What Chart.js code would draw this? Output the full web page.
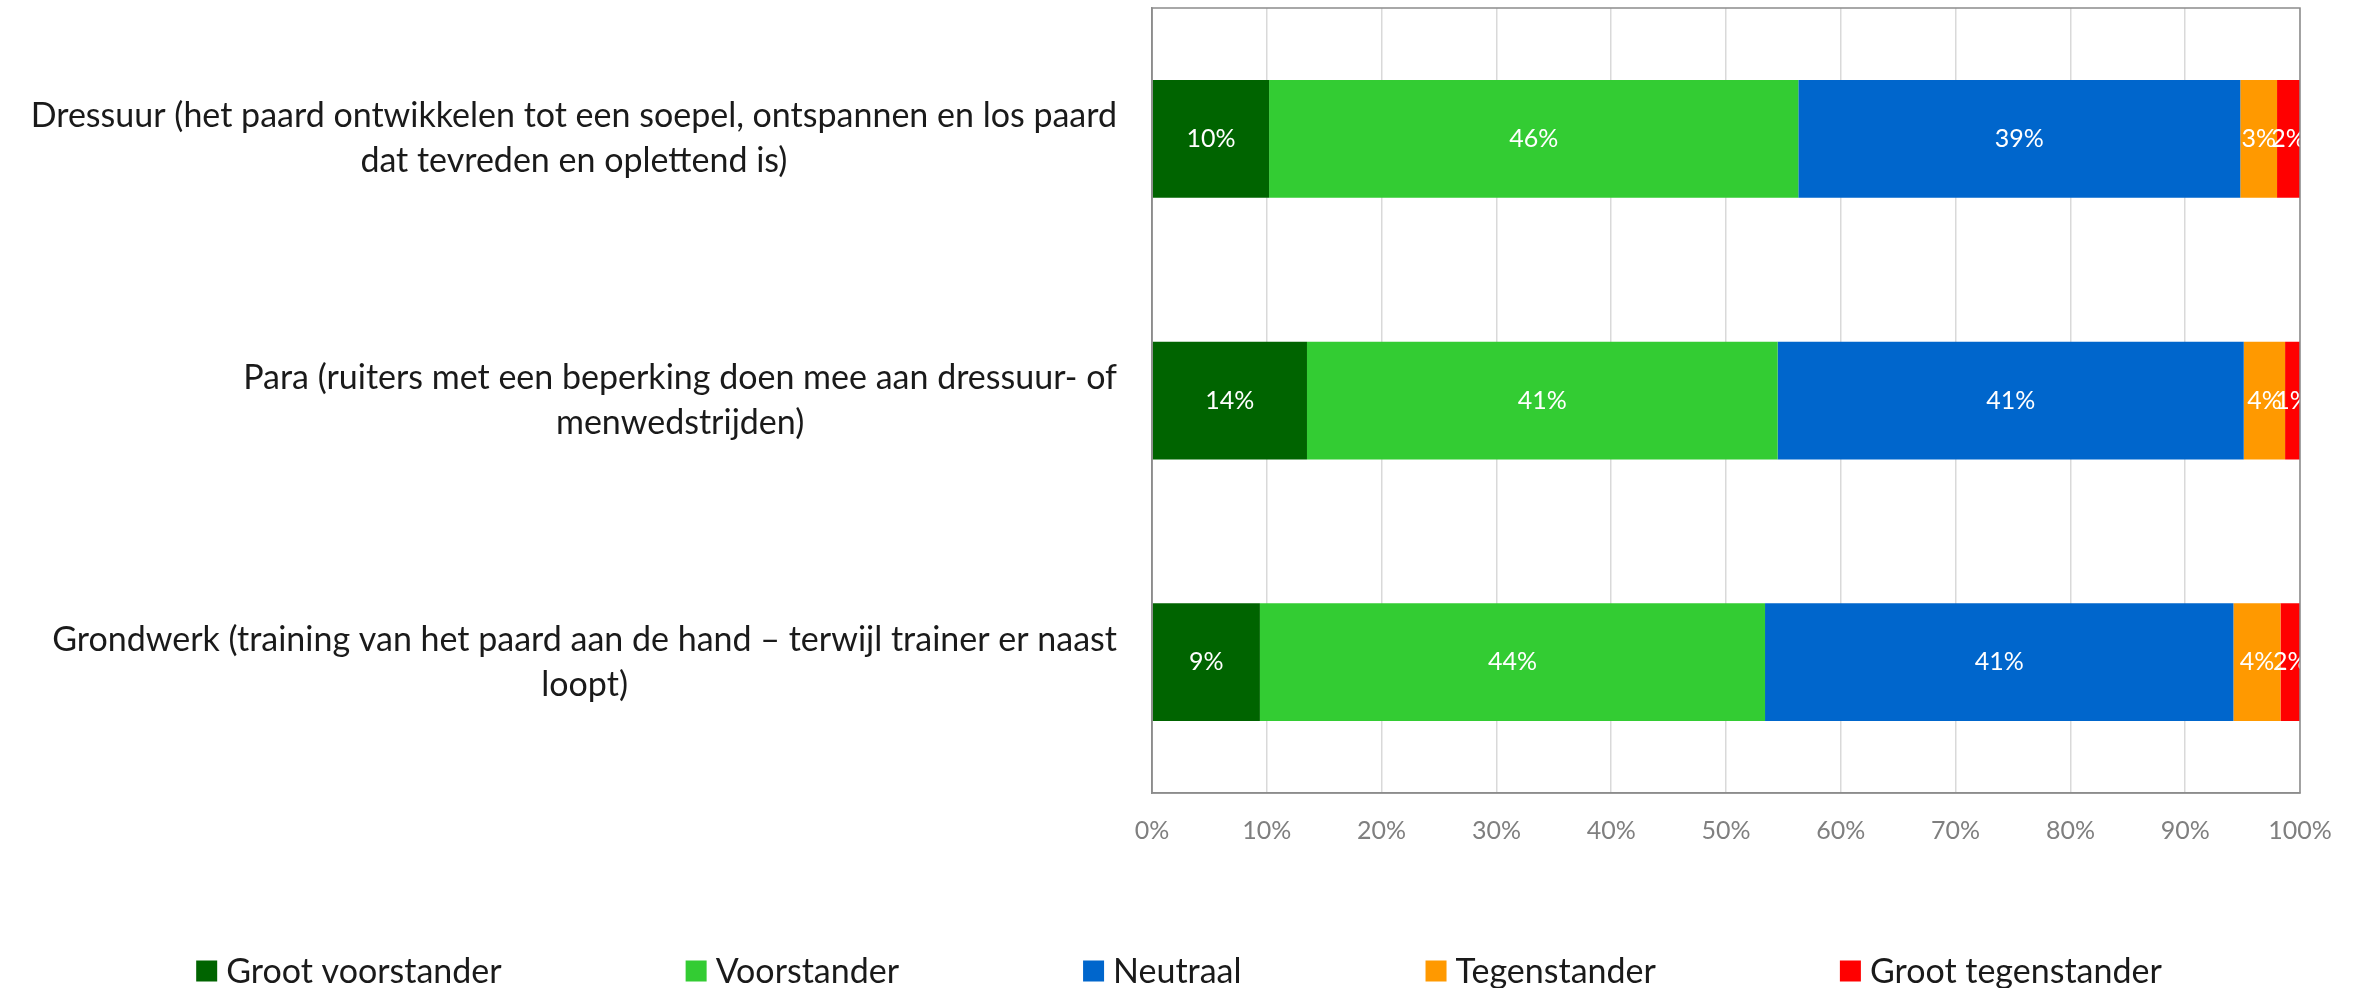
<!DOCTYPE html>
<html>
<head>
<meta charset="utf-8">
<script src="https://cdn.jsdelivr.net/npm/chart.js@4.4.1/dist/chart.umd.min.js"></script>
<style>
    html, body { margin: 0; padding: 0; background: #ffffff; }
    #wrap { width: 2358px; height: 988px; position: relative; }
</style>
</head>
<body>
<div id="wrap"><canvas id="surveyChart"></canvas></div>
<script>
// categorieën (meerdere regels per label)
const categories = [
    ['Dressuur (het paard ontwikkelen tot een soepel, ontspannen en los paard', 'dat tevreden en oplettend is)'],
    ['Para (ruiters met een beperking doen mee aan dressuur- of', 'menwedstrijden)'],
    ['Grondwerk (training van het paard aan de hand \u2013 terwijl trainer er naast', 'loopt)']
];

// percentages per antwoord
const grootVoorstander = [10.2, 13.5, 9.4];
const voorstander = [46.1, 41.0, 44.0];
const neutraal = [38.5, 40.6, 40.8];
const tegenstander = [3.2, 3.6, 4.1];
const grootTegenstander = [2.0, 1.3, 1.7];

const seriesNames = ['Groot voorstander', 'Voorstander', 'Neutraal', 'Tegenstander', 'Groot tegenstander'];
const seriesColors = ['#006400', '#33CC33', '#0066CC', '#FF9900', '#FF0000'];

const xTicks = [0, 10, 20, 30, 40, 50, 60, 70, 80, 90, 100];

const FONT = 'Lato, "Open Sans", sans-serif';

// y-as labels: blok rechts uitgelijnd, regels gecentreerd
const sideLabels = {
    id: 'sideLabels',
    afterDraw(chart) {
        const ctx = chart.ctx;
        const yScale = chart.scales.y;
        const rightEdge = chart.chartArea.left - 35;
        const lineHeight = 45;
        ctx.save();
        ctx.font = '34px ' + FONT;
        ctx.fillStyle = '#1a1a1a';
        ctx.textAlign = 'center';
        ctx.textBaseline = 'middle';
        chart.data.labels.forEach((lines, i) => {
            const y = yScale.getPixelForTick(i);
            const widest = Math.max(...lines.map(l => ctx.measureText(l).width));
            const cx = rightEdge - widest / 2;
            const start = y - (lines.length - 1) * lineHeight / 2;
            lines.forEach((line, j) => ctx.fillText(line, cx, start + j * lineHeight));
        });
        ctx.restore();
    }
};

// percentages in de balken
const barValues = {
    id: 'barValues',
    afterDatasetsDraw(chart) {
        const ctx = chart.ctx;
        const area = chart.chartArea;
        ctx.save();
        ctx.beginPath();
        ctx.rect(area.left, area.top, area.right - area.left, area.bottom - area.top);
        ctx.clip();
        ctx.font = '25px ' + FONT;
        ctx.fillStyle = '#ffffff';
        ctx.textAlign = 'center';
        ctx.textBaseline = 'middle';
        chart.data.datasets.forEach((ds, di) => {
            const meta = chart.getDatasetMeta(di);
            meta.data.forEach((bar, i) => {
                const cx = (bar.x + bar.base) / 2;
                ctx.fillText(Math.round(ds.data[i]) + '%', cx, bar.y);
            });
        });
        ctx.restore();

        // kader rond plotgebied
        ctx.save();
        ctx.strokeStyle = '#8c8c8c';
        ctx.lineWidth = 1.5;
        ctx.strokeRect(area.left, area.top, area.right - area.left, area.bottom - area.top);
        ctx.restore();
    }
};

// legenda onderaan
const bottomLegend = {
    id: 'bottomLegend',
    afterDraw(chart) {
        const ctx = chart.ctx;
        const box = 21, gap = 9, spacing = 184, y = 971;
        ctx.save();
        ctx.font = '34px ' + FONT;
        ctx.textBaseline = 'middle';
        ctx.textAlign = 'left';
        const items = chart.data.datasets.map(ds => ({
            text: ds.label,
            color: ds.backgroundColor,
            w: ctx.measureText(ds.label).width
        }));
        const total = items.reduce((s, it) => s + box + gap + it.w, 0) + spacing * (items.length - 1);
        let x = chart.width / 2 - total / 2;
        items.forEach(it => {
            ctx.fillStyle = it.color;
            ctx.fillRect(x, y - box / 2, box, box);
            ctx.fillStyle = '#1a1a1a';
            ctx.fillText(it.text, x + box + gap, y + 1);
            x += box + gap + it.w + spacing;
        });
        ctx.restore();
    }
};

const seriesData = [grootVoorstander, voorstander, neutraal, tegenstander, grootTegenstander];

new Chart(document.getElementById('surveyChart').getContext('2d'), {
    type: 'bar',
    data: {
        labels: categories,
        datasets: seriesNames.map((name, i) => ({
            label: name,
            data: seriesData[i],
            backgroundColor: seriesColors[i],
            borderWidth: 0,
            barPercentage: 0.45,
            categoryPercentage: 1
        }))
    },
    options: {
        indexAxis: 'y',
        responsive: true,
        maintainAspectRatio: false,
        animation: false,
        layout: {
            padding: { top: 8, right: 58, bottom: 0, left: 0 }
        },
        plugins: {
            legend: { display: false },
            tooltip: { enabled: false }
        },
        scales: {
            x: {
                stacked: true,
                min: 0,
                max: 100,
                afterBuildTicks(scale) {
                    scale.ticks = xTicks.map(v => ({ value: v }));
                },
                afterFit(scale) {
                    scale.height = 195;
                },
                grid: {
                    color: '#d9d9d9',
                    lineWidth: 1.5,
                    drawTicks: false
                },
                border: { color: '#8c8c8c', width: 1.5 },
                ticks: {
                    padding: 23,
                    color: '#7f7f7f',
                    font: { family: FONT, size: 25 },
                    maxRotation: 0,
                    callback: value => value + '%'
                }
            },
            y: {
                stacked: true,
                afterFit(scale) {
                    scale.width = 1152;
                },
                grid: { display: false },
                border: { color: '#8c8c8c', width: 1.5 },
                ticks: { display: false }
            }
        }
    },
    plugins: [sideLabels, barValues, bottomLegend]
});
</script>
</body>
</html>
